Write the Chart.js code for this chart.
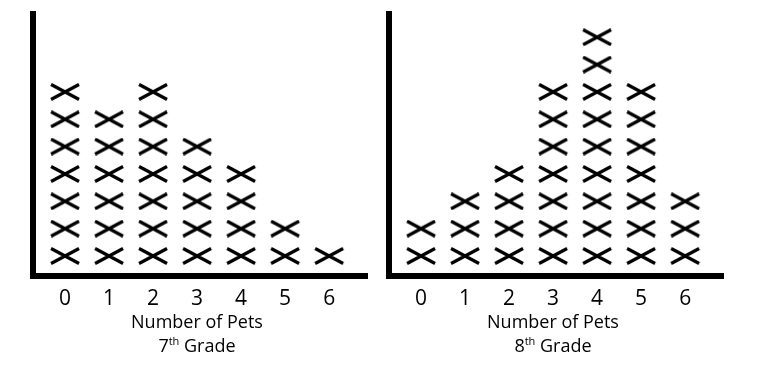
<!DOCTYPE html>
<html>
<head>
<meta charset="utf-8">
<script src="https://cdn.jsdelivr.net/npm/chart.js@4/dist/chart.umd.min.js"></script>
<style>
  body { margin: 0; background: #fff; width: 767px; height: 370px; position: relative; overflow: hidden; }
  .panel { position: absolute; top: 0; width: 380px; height: 320px; }
  .caption { position: absolute; top: 309px; width: 200px; text-align: center; font-family: "Open Sans", sans-serif; font-size: 18px; line-height: 24px; color: #000; }
  .caption sup { font-size: 11px; vertical-align: 7px; line-height: 0; }
</style>
</head>
<body>
<div class="panel" style="left:0"><canvas id="grade7"></canvas></div>
<div class="panel" style="left:356px"><canvas id="grade8"></canvas></div>
<div class="caption" style="left:97px">Number of Pets<br>7<sup>th</sup> Grade</div>
<div class="caption" style="left:453px">Number of Pets<br>8<sup>th</sup> Grade</div>
<script>
// number of pets (x categories) and how many students had each
const petCounts = [0, 1, 2, 3, 4, 5, 6];
const grade7Students = [7, 6, 7, 5, 4, 2, 1];
const grade8Students = [2, 3, 4, 7, 9, 7, 3];

// an "X" mark, a bit wider than tall
function makeCross() {
    const c = document.createElement('canvas');
    c.width = 32;
    c.height = 18;
    const g = c.getContext('2d');
    g.strokeStyle = '#000';
    g.lineWidth = 3.2;
    g.beginPath();
    g.moveTo(2, 1.5); g.lineTo(30, 16.5);
    g.moveTo(30, 1.5); g.lineTo(2, 16.5);
    g.stroke();
    return c;
}
const cross = makeCross();

// stack one mark per student above each category
function stackPoints(counts) {
    const pts = [];
    petCounts.forEach((pets, i) => {
        for (let n = 1; n <= counts[i]; n++) {
            pts.push({ x: pets, y: n });
        }
    });
    return pts;
}

function renderDotPlot(canvasId, counts) {
    const ctx = document.getElementById(canvasId).getContext('2d');
    return new Chart(ctx, {
        type: 'scatter',
        data: {
            datasets: [{
                data: stackPoints(counts),
                pointStyle: cross,
                pointRadius: 10,
                pointHoverRadius: 10,
            }]
        },
        options: {
            responsive: true,
            maintainAspectRatio: false,
            animation: false,
            layout: { padding: { left: 33, right: 13, top: 14, bottom: 0 } },
            plugins: { legend: { display: false }, tooltip: { enabled: false } },
            scales: {
                x: {
                    type: 'linear',
                    min: -0.727,
                    max: 6.86,
                    grid: { display: false, drawTicks: false },
                    border: { display: true, width: 6, color: '#000' },
                    ticks: {
                        color: '#000',
                        padding: 10,
                        font: { family: '"Open Sans", sans-serif', size: 21 }
                    },
                    afterBuildTicks: (scale) => {
                        scale.ticks = petCounts.map((v) => ({ value: v }));
                    },
                    afterFit: (scale) => { scale.height = 44; }
                },
                y: {
                    min: 0.268,
                    max: 9.85,
                    grid: { display: false, drawTicks: false },
                    border: { display: true, width: 6, color: '#000' },
                    ticks: { display: false },
                    afterFit: (scale) => { scale.width = 0; }
                }
            }
        }
    });
}

renderDotPlot('grade7', grade7Students);
renderDotPlot('grade8', grade8Students);
</script>
</body>
</html>
